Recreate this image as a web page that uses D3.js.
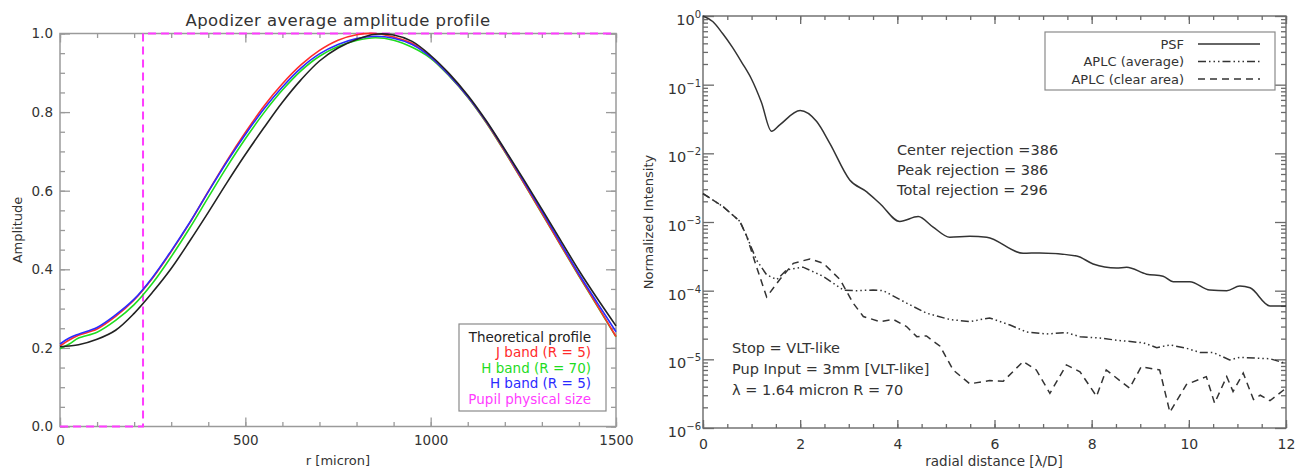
<!DOCTYPE html>
<html>
<head>
<meta charset="utf-8">
<script src="https://cdnjs.cloudflare.com/ajax/libs/d3/7.8.5/d3.min.js"></script>
<style>
  body { margin: 0; background: #fff; }
  svg { display: block; font-family: "DejaVu Sans", sans-serif; }
  .axis path, .axis line { fill: none; }
</style>
</head>
<body>
<svg id="chart" width="1304" height="471"></svg>
<script>
/* ---- left panel data: apodizer amplitude vs r [micron] ---- */
var rMicron = [0, 25, 50, 100, 150, 200, 250, 300, 350, 400, 450, 500, 550, 600, 650, 700, 750, 800, 850, 900, 950, 1000, 1050, 1100, 1150, 1200, 1250, 1300, 1350, 1400, 1450, 1500];
var ampTheory = [0.203, 0.205, 0.208, 0.222, 0.245, 0.288, 0.342, 0.402, 0.472, 0.545, 0.62, 0.692, 0.76, 0.825, 0.882, 0.93, 0.963, 0.985, 0.998, 0.996, 0.98, 0.944, 0.898, 0.843, 0.778, 0.705, 0.63, 0.553, 0.475, 0.397, 0.325, 0.256];
var ampJ5 = [0.205, 0.22, 0.232, 0.248, 0.28, 0.322, 0.378, 0.445, 0.518, 0.598, 0.676, 0.748, 0.815, 0.872, 0.92, 0.957, 0.983, 0.997, 1.0, 0.991, 0.975, 0.94, 0.894, 0.839, 0.774, 0.7, 0.622, 0.543, 0.463, 0.384, 0.307, 0.229];
var ampH70 = [0.198, 0.21, 0.225, 0.24, 0.27, 0.31, 0.365, 0.432, 0.505, 0.583, 0.66, 0.732, 0.798, 0.856, 0.905, 0.942, 0.967, 0.982, 0.989, 0.983, 0.965, 0.937, 0.892, 0.838, 0.773, 0.699, 0.621, 0.542, 0.462, 0.383, 0.306, 0.228];
var ampH5 = [0.21, 0.225, 0.235, 0.252, 0.284, 0.324, 0.38, 0.447, 0.519, 0.597, 0.673, 0.743, 0.808, 0.864, 0.912, 0.948, 0.972, 0.987, 0.993, 0.988, 0.972, 0.94, 0.894, 0.84, 0.776, 0.703, 0.626, 0.548, 0.468, 0.388, 0.314, 0.241];
var pupilR = [0, 224, 224, 1500];
var pupilA = [0, 0, 1, 1];
var leftLegend = ["Theoretical profile", "J band (R = 5)", "H band (R = 70)", "H band (R = 5)", "Pupil physical size"];
var leftColors = ["#222222", "#ff2b2b", "#1fdc1f", "#2b2bff", "#ff3cff"];
var leftXTicks = [0, 500, 1000, 1500];
var leftYTicks = [0.0, 0.2, 0.4, 0.6, 0.8, 1.0];

/* ---- right panel data: normalized intensity vs radial distance [lambda/D] ---- */
var psfX = [0, 0.2, 0.4, 0.6, 0.8, 1.0, 1.2, 1.41, 1.58, 2.0, 2.34, 2.61, 3.02, 3.37, 3.64, 4.05, 4.43, 4.73, 5.08, 5.49, 5.84, 6.59, 6.93, 7.69, 8.03, 8.51, 8.72, 9.13, 9.47, 9.68, 10.02, 10.43, 10.78, 11.05, 11.26, 11.67, 12];
var psfY = [1.0, 0.83, 0.56, 0.355, 0.21, 0.12, 0.056, 0.021, 0.026, 0.042, 0.029, 0.014, 0.0041, 0.00275, 0.00186, 0.00102, 0.0012, 0.00085, 0.0006, 0.00062, 0.0006, 0.00035, 0.000355, 0.00032, 0.000245, 0.000214, 0.000219, 0.000174, 0.000162, 0.000135, 0.000135, 0.000102, 0.0001, 0.000117, 0.00011, 0.00006, 0.00006];
var avgX = [0, 0.42, 0.76, 0.9, 1.1, 1.31, 1.52, 1.72, 2.06, 2.47, 2.89, 3.16, 3.5, 3.71, 4.19, 4.6, 5.08, 5.49, 5.9, 6.32, 6.66, 7.07, 7.48, 7.76, 8.17, 8.51, 9.06, 9.34, 9.61, 9.95, 10.23, 10.5, 10.84, 11.05, 11.67, 12];
var avgY = [0.0026, 0.00166, 0.00102, 0.00062, 0.00028, 0.00017, 0.000145, 0.0002, 0.00022, 0.000162, 0.000102, 0.0001, 0.000102, 0.0001, 0.000066, 0.000047, 0.000038, 0.0000355, 0.00004, 0.0000316, 0.000025, 0.0000234, 0.0000245, 0.0000214, 0.0000204, 0.000019, 0.0000174, 0.0000148, 0.0000162, 0.0000145, 0.0000126, 0.0000126, 0.0000098, 0.0000107, 0.0000102, 0.0000087];
var clearX = [0, 0.42, 0.76, 0.9, 1.1, 1.31, 1.58, 1.86, 2.2, 2.48, 2.82, 3.09, 3.3, 3.64, 3.92, 4.19, 4.4, 4.6, 4.88, 5.15, 5.49, 5.9, 6.18, 6.59, 6.86, 7.14, 7.48, 7.76, 8.1, 8.3, 8.78, 9.02, 9.4, 9.61, 9.95, 10.36, 10.53, 10.78, 10.91, 11.12, 11.33, 11.47, 11.67, 12];
var clearY = [0.0026, 0.00166, 0.00102, 0.00062, 0.000224, 0.000081, 0.000145, 0.00025, 0.00029, 0.00025, 0.000145, 0.000066, 0.000042, 0.0000355, 0.000038, 0.00003, 0.0000214, 0.0000219, 0.0000155, 0.000007, 0.0000044, 0.0000049, 0.0000048, 0.0000093, 0.000007, 0.0000032, 0.0000083, 0.0000066, 0.0000029, 0.000007, 0.0000038, 0.0000078, 0.000007, 0.0000017, 0.0000043, 0.0000056, 0.0000023, 0.0000056, 0.0000034, 0.0000063, 0.0000026, 0.000003, 0.0000025, 0.0000038];
var rightLegend = ["PSF", "APLC (average)", "APLC (clear area)"];
var rightXTicks = [0, 2, 4, 6, 8, 10, 12];
var rightYExp = [0, -1, -2, -3, -4, -5, -6];
var notesTop = ["Center rejection =386", "Peak rejection = 386", "Total rejection = 296"];
var notesBottom = ["Stop = VLT-like", "Pup Input = 3mm [VLT-like]", "\u03bb = 1.64 micron R = 70"];

var svg = d3.select("#chart");

/* ================= LEFT PANEL ================= */
var L = {x0: 60, x1: 616, y0: 33.5, y1: 426.5};
var xL = d3.scaleLinear().domain([0, 1500]).range([L.x0, L.x1]);
var yL = d3.scaleLinear().domain([0, 1]).range([L.y1, L.y0]);
var gridL = "#9a9a9a";

function styleAxis(g, col) {
  g.select(".domain").remove();
  g.selectAll("line").attr("stroke", col).attr("stroke-width", 1.3);
  g.selectAll("text").attr("fill", "#333").style("font-family", "DejaVu Sans");
}

// frame
svg.append("rect").attr("x", L.x0).attr("y", L.y0).attr("width", L.x1 - L.x0).attr("height", L.y1 - L.y0)
  .attr("fill", "none").attr("stroke", gridL).attr("stroke-width", 1.5);

// bottom
svg.append("g").attr("class", "axis").attr("transform", "translate(0," + L.y1 + ")")
  .call(d3.axisBottom(xL).tickValues(leftXTicks).tickSizeInner(-9).tickSizeOuter(0).tickPadding(9).tickFormat(d3.format("d")))
  .call(g => styleAxis(g, gridL)).selectAll("text").style("font-size", "13.5px");
svg.append("g").attr("transform", "translate(0," + L.y1 + ")")
  .call(d3.axisBottom(xL).tickValues(d3.range(0, 1501, 100)).tickSizeInner(-4.5).tickSizeOuter(0).tickFormat(""))
  .call(g => styleAxis(g, gridL));
// top
svg.append("g").attr("transform", "translate(0," + L.y0 + ")")
  .call(d3.axisBottom(xL).tickValues(leftXTicks).tickSizeInner(9).tickSizeOuter(0).tickFormat(""))
  .call(g => styleAxis(g, gridL));
svg.append("g").attr("transform", "translate(0," + L.y0 + ")")
  .call(d3.axisBottom(xL).tickValues(d3.range(0, 1501, 100)).tickSizeInner(4.5).tickSizeOuter(0).tickFormat(""))
  .call(g => styleAxis(g, gridL));
// left
svg.append("g").attr("transform", "translate(" + L.x0 + ",0)")
  .call(d3.axisLeft(yL).tickValues(leftYTicks).tickSizeInner(-10).tickSizeOuter(0).tickPadding(7).tickFormat(d3.format(".1f")))
  .call(g => styleAxis(g, gridL)).selectAll("text").style("font-size", "13.5px");
svg.append("g").attr("transform", "translate(" + L.x0 + ",0)")
  .call(d3.axisLeft(yL).tickValues(d3.range(0, 1.001, 0.05)).tickSizeInner(-5).tickSizeOuter(0).tickFormat(""))
  .call(g => styleAxis(g, gridL));
// right
svg.append("g").attr("transform", "translate(" + L.x1 + ",0)")
  .call(d3.axisLeft(yL).tickValues(leftYTicks).tickSizeInner(10).tickSizeOuter(0).tickFormat(""))
  .call(g => styleAxis(g, gridL));
svg.append("g").attr("transform", "translate(" + L.x1 + ",0)")
  .call(d3.axisLeft(yL).tickValues(d3.range(0, 1.001, 0.05)).tickSizeInner(5).tickSizeOuter(0).tickFormat(""))
  .call(g => styleAxis(g, gridL));

// pupil physical size (magenta dashed step)
svg.append("path")
  .datum(d3.zip(pupilR, pupilA))
  .attr("d", d3.line().x(d => xL(d[0])).y(d => yL(d[1])))
  .attr("fill", "none").attr("stroke", leftColors[4]).attr("stroke-width", 2).attr("stroke-dasharray", "8,5");

// profiles
var profLine = d3.line().x(d => xL(d[0])).y(d => yL(d[1])).curve(d3.curveCatmullRom);
var profiles = [ampTheory, ampJ5, ampH70, ampH5];
[2, 1, 3, 0].forEach(function(i) {
  svg.append("path")
    .datum(d3.zip(rMicron, profiles[i]))
    .attr("d", profLine)
    .attr("fill", "none").attr("stroke", leftColors[i]).attr("stroke-width", 1.6);
});

// title and labels
svg.append("text").attr("x", 338).attr("y", 26).attr("text-anchor", "middle")
  .style("font-size", "16.5px").attr("fill", "#333").style("letter-spacing", "0.4px")
  .text("Apodizer average amplitude profile");
svg.append("text").attr("x", 338).attr("y", 465).attr("text-anchor", "middle")
  .style("font-size", "13px").attr("fill", "#333").text("r [micron]");
svg.append("text").attr("transform", "translate(22,230) rotate(-90)").attr("text-anchor", "middle")
  .style("font-size", "13px").attr("fill", "#333").text("Amplitude");

// left legend
svg.append("rect").attr("x", 459).attr("y", 324).attr("width", 147).attr("height", 87)
  .attr("fill", "#fff").attr("stroke", "#8a8a8a").attr("stroke-width", 1.2);
leftLegend.forEach(function(t, i) {
  svg.append("text").attr("x", 591).attr("y", 341.5 + i * 15.6).attr("text-anchor", "end")
    .style("font-size", "13.5px").attr("fill", leftColors[i]).text(t);
});

/* ================= RIGHT PANEL ================= */
var R = {x0: 703, x1: 1286, y0: 16, y1: 428};
var xR = d3.scaleLinear().domain([0, 12]).range([R.x0, R.x1]);
var yR = d3.scaleLog().domain([1e-6, 1]).range([R.y1, R.y0]);
var gridR = "#6a6a6a";

svg.append("rect").attr("x", R.x0).attr("y", R.y0).attr("width", R.x1 - R.x0).attr("height", R.y1 - R.y0)
  .attr("fill", "none").attr("stroke", gridR).attr("stroke-width", 1.4);

var minorX = d3.range(0, 12.01, 0.5);
var minorY = [];
rightYExp.forEach(function(e) {
  if (e > -6) for (var k = 2; k <= 9; k++) minorY.push(k * Math.pow(10, e - 1));
});
var majorY = rightYExp.map(e => Math.pow(10, e));

svg.append("g").attr("transform", "translate(0," + R.y1 + ")")
  .call(d3.axisBottom(xR).tickValues(rightXTicks).tickSizeInner(-8).tickSizeOuter(0).tickPadding(11).tickFormat(d3.format("d")))
  .call(g => styleAxis(g, gridR)).selectAll("text").style("font-size", "14px");
svg.append("g").attr("transform", "translate(0," + R.y1 + ")")
  .call(d3.axisBottom(xR).tickValues(minorX).tickSizeInner(-4).tickSizeOuter(0).tickFormat(""))
  .call(g => styleAxis(g, gridR));
svg.append("g").attr("transform", "translate(0," + R.y0 + ")")
  .call(d3.axisBottom(xR).tickValues(rightXTicks).tickSizeInner(8).tickSizeOuter(0).tickFormat(""))
  .call(g => styleAxis(g, gridR));
svg.append("g").attr("transform", "translate(0," + R.y0 + ")")
  .call(d3.axisBottom(xR).tickValues(minorX).tickSizeInner(4).tickSizeOuter(0).tickFormat(""))
  .call(g => styleAxis(g, gridR));
svg.append("g").attr("transform", "translate(" + R.x0 + ",0)")
  .call(d3.axisLeft(yR).tickValues(majorY).tickSizeInner(-11).tickSizeOuter(0).tickFormat(""))
  .call(g => styleAxis(g, gridR));
svg.append("g").attr("transform", "translate(" + R.x0 + ",0)")
  .call(d3.axisLeft(yR).tickValues(minorY).tickSizeInner(-5).tickSizeOuter(0).tickFormat(""))
  .call(g => styleAxis(g, gridR));
svg.append("g").attr("transform", "translate(" + R.x1 + ",0)")
  .call(d3.axisLeft(yR).tickValues(majorY).tickSizeInner(11).tickSizeOuter(0).tickFormat(""))
  .call(g => styleAxis(g, gridR));
svg.append("g").attr("transform", "translate(" + R.x1 + ",0)")
  .call(d3.axisLeft(yR).tickValues(minorY).tickSizeInner(5).tickSizeOuter(0).tickFormat(""))
  .call(g => styleAxis(g, gridR));

// log tick labels 10^n
rightYExp.forEach(function(e) {
  var t = svg.append("text").attr("x", R.x0 - 2).attr("y", yR(Math.pow(10, e)) + 9)
    .attr("text-anchor", "end").attr("fill", "#333").style("font-size", "14.5px");
  t.append("tspan").text("10");
  t.append("tspan").attr("dy", -7).style("font-size", "10px").text(e === 0 ? "0" : "\u2212" + (-e));
});

var lineR = d3.line().x(d => xR(d[0])).y(d => yR(d[1]));
var dashes = [null, "8,3,1.5,3,1.5,3,1.5,3", "7,5"];
var series = [[psfX, psfY], [avgX, avgY], [clearX, clearY]];
series.forEach(function(s, i) {
  var pts = d3.zip(s[0], s[1]);
  svg.append("path")
    .attr("d", lineR.curve(i === 0 ? d3.curveMonotoneX : d3.curveLinear)(pts))
    .attr("fill", "none").attr("stroke", "#333").attr("stroke-width", 1.5)
    .attr("stroke-dasharray", dashes[i]);
});

// right legend
svg.append("rect").attr("x", 1045).attr("y", 32).attr("width", 230).attr("height", 58)
  .attr("fill", "#fff").attr("stroke", "#8a8a8a").attr("stroke-width", 1.2);
rightLegend.forEach(function(t, i) {
  var yy = 44 + i * 17.5;
  svg.append("text").attr("x", 1184).attr("y", yy + 4.5).attr("text-anchor", "end")
    .style("font-size", "13px").attr("fill", "#333").text(t);
  svg.append("line").attr("x1", 1198).attr("x2", 1260).attr("y1", yy).attr("y2", yy)
    .attr("stroke", "#333").attr("stroke-width", 1.5).attr("stroke-dasharray", dashes[i]);
});

// annotations
notesTop.forEach(function(t, i) {
  svg.append("text").attr("x", 897).attr("y", 155 + i * 20).style("font-size", "14.5px").attr("fill", "#333").text(t);
});
notesBottom.forEach(function(t, i) {
  svg.append("text").attr("x", 732).attr("y", 353 + i * 21).style("font-size", "14.5px").attr("fill", "#333").text(t);
});

svg.append("text").attr("x", 994).attr("y", 466).attr("text-anchor", "middle")
  .style("font-size", "13.5px").attr("fill", "#333").text("radial distance [\u03bb/D]");
svg.append("text").attr("transform", "translate(653,222) rotate(-90)").attr("text-anchor", "middle")
  .style("font-size", "13px").attr("fill", "#333").text("Normalized Intensity");
</script>
</body>
</html>
